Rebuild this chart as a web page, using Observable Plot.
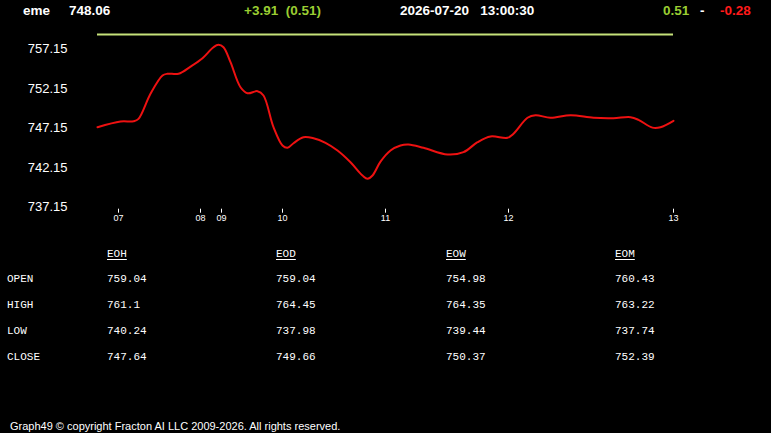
<!DOCTYPE html>
<html>
<head>
<meta charset="utf-8">
<script src="https://cdn.jsdelivr.net/npm/d3@7"></script>
<script src="https://cdn.jsdelivr.net/npm/@observablehq/plot@0.6"></script>
<style>
  html, body { margin: 0; padding: 0; background: #000; }
  #wrap { position: relative; width: 771px; height: 433px; background: #000; overflow: hidden; font-family: "Liberation Sans", Arial, sans-serif; }
  .hdr { position: absolute; top: 3px; font-size: 13.5px; font-weight: bold; color: #fff; white-space: nowrap; line-height: 16px; }
  .green { color: #9acd32; }
  .red { color: #ff1a1a; }
  .tbl { position: absolute; font-family: "Liberation Mono", "DejaVu Sans Mono", monospace; font-size: 11px; color: #fff; white-space: nowrap; line-height: 14px; }
  .tbl.h { text-decoration: underline; text-underline-offset: 2px; }
  #foot { position: absolute; left: 10px; top: 420px; font-size: 11px; color: #fff; letter-spacing: 0px; white-space: nowrap; }
  #chart { position: absolute; left: 0; top: 0; }
</style>
</head>
<body>
<div id="wrap">
  <div id="chart"></div>
</div>
<script>
// ---- data ----
const symbol = "eme";
const lastPrice = "748.06";
const change = "+3.91";
const changePct = "(0.51)";
const stamp = "2026-07-20   13:00:30";
const upVal = "0.51";
const downVal = "-0.28";

// sample position along the session (index units) and price
const tIndex = [0, 23, 36, 41, 53, 65, 70, 81, 93, 105, 116, 121, 126, 133, 143, 150, 160, 166, 176, 185, 190, 196, 206, 216, 228, 240, 253, 265, 270, 275, 283, 293, 303, 311, 326, 350, 366, 380, 393, 410, 416, 430, 438, 453, 473, 496, 516, 533, 541, 555, 563, 576];
const price = [747.25, 747.97, 748.0, 748.3, 751.47, 753.78, 754.0, 754.0, 754.9, 755.96, 757.35, 757.65, 757.35, 755.46, 752.3, 751.54, 751.8, 751.25, 747.25, 744.94, 744.65, 745.23, 745.99, 745.86, 745.28, 744.31, 742.83, 741.15, 740.74, 741.15, 742.9, 744.31, 744.95, 745.07, 744.65, 743.8, 744.1, 745.36, 746.08, 745.91, 746.42, 748.44, 748.77, 748.44, 748.77, 748.44, 748.39, 748.51, 748.18, 747.2, 747.25, 748.06];
const refLevel = 758.95;

const hourTickIndex = [21, 103, 124, 185, 288, 411, 576];
const hourTickLabel = ["07", "08", "09", "10", "11", "12", "13"];

const yTicks = [737.15, 742.15, 747.15, 752.15, 757.15];

const tableCols = ["EOH", "EOD", "EOW", "EOM"];
const tableRows = ["OPEN", "HIGH", "LOW", "CLOSE"];
const openVals  = ["759.04", "759.04", "754.98", "760.43"];
const highVals  = ["761.1", "764.45", "764.35", "763.22"];
const lowVals   = ["740.24", "737.98", "739.44", "737.74"];
const closeVals = ["747.64", "749.66", "750.37", "752.39"];

const footer = "Graph49 \u00a9 copyright Fracton AI LLC 2009-2026. All rights reserved.";

// ---- chart ----
const series = tIndex.map((t, i) => ({t, v: price[i]}));
const tickLab = new Map(hourTickIndex.map((t, i) => [t, hourTickLabel[i]]));

const chart = Plot.plot({
  width: 771,
  height: 230,
  marginLeft: 97,
  marginRight: 98,
  marginTop: 48.3,
  marginBottom: 23.3,
  style: {background: "transparent", color: "#fff", fontFamily: "Liberation Sans, Arial, sans-serif"},
  x: {domain: [0, 576], axis: null},
  y: {domain: [737.15, 757.15], axis: null},
  marks: [
    Plot.ruleY([refLevel], {x1: 0, x2: 576, stroke: "#c5e17a", strokeWidth: 2}),
    Plot.line(series, {x: "t", y: "v", stroke: "#ee1111", strokeWidth: 2, curve: "catmull-rom"}),
    Plot.axisY(yTicks, {anchor: "left", label: null, tickSize: 0, tickPadding: 30, tickFormat: d => d.toFixed(2), fontSize: 13, fill: "#fff"}),
    Plot.axisX(hourTickIndex, {anchor: "bottom", label: null, tickSize: 4, tickPadding: 1, dy: 2, tickFormat: d => tickLab.get(d), fontSize: 9, stroke: "#fff", fill: "#fff"})
  ]
});
document.getElementById("chart").appendChild(chart);

// ---- header ----
const wrap = document.getElementById("wrap");
function add(cls, left, top, html) {
  const d = document.createElement("div");
  d.className = cls;
  d.style.left = left + "px";
  if (top !== null) d.style.top = top + "px";
  d.innerHTML = html;
  wrap.appendChild(d);
  return d;
}
add("hdr", 23, null, symbol);
add("hdr", 69, null, lastPrice);
add("hdr green", 244, null, change + "&nbsp;&nbsp;" + changePct);
add("hdr", 400, null, stamp.replace(/ /g, "&nbsp;"));
add("hdr green", 663, null, upVal);
add("hdr", 700, null, "-");
add("hdr red", 720, null, downVal);

// ---- table ----
const colX = [107, 276, 446, 615];
const rowY = [272, 298, 324, 350];
const rowVals = [openVals, highVals, lowVals, closeVals];
tableCols.forEach((c, i) => add("tbl h", colX[i], 247, c));
tableRows.forEach((r, j) => {
  add("tbl", 7, rowY[j], r);
  rowVals[j].forEach((v, i) => add("tbl", colX[i], rowY[j], v));
});

const f = document.createElement("div");
f.id = "foot";
f.textContent = footer;
wrap.appendChild(f);
</script>
</body>
</html>
